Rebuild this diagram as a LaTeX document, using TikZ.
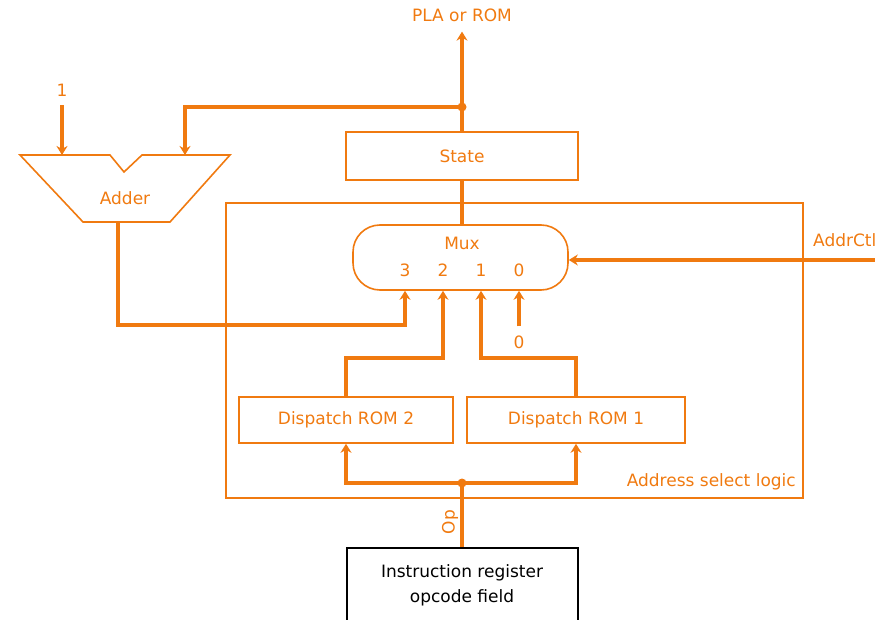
\documentclass[tikz,border=0pt]{standalone}
\usepackage{fontspec}
\setmainfont{DejaVu Sans}
\usetikzlibrary{arrows.meta,positioning}
\definecolor{wirec}{HTML}{F07A10}
\tikzset{
  wire/.style={wirec,line width=3.4pt},
  ar/.style={wire,-{Stealth[length=9pt,width=11pt]}},
  outl/.style={draw=wirec,line width=1.6pt},
  lbl/.style={text=wirec,font=\fontsize{17}{25}\selectfont,inner sep=1pt},
  box/.style={outl,lbl,minimum height=46pt,inner sep=3pt},
  muxbox/.style={outl,rounded corners=27pt,minimum width=215pt,minimum height=65pt},
  irbox/.style={draw=black,line width=2pt,align=center,font=\fontsize{17}{25}\selectfont,minimum width=231pt,minimum height=74pt},
  dot/.style={circle,fill=wirec,inner sep=0pt,minimum size=9pt}
}
\begin{document}
\begin{tikzpicture}[x=1pt,y=-1pt]
\useasboundingbox (0,0) rectangle (875,620);
% address select logic frame
\node[outl,minimum width=577pt,minimum height=295pt] (asl) at (514.5,350.5) {};
\node[lbl,anchor=east] (asltxt) at (797,482) {Address select logic};
% blocks
\node[box,minimum width=232pt,minimum height=48pt] (state) at (462,156) {State};
\node[muxbox] (mux) at (460.5,257.5) {};
\node[lbl] (muxtxt) at (462,243) {Mux};
\foreach \n/\x in {3/405,2/443,1/481,0/519}
  \node[lbl] (m\n) at (\x,270) {\n};
\node[box,minimum width=214pt] (rom2) at (346,420) {Dispatch ROM 2};
\node[box,minimum width=218pt] (rom1) at (576,420) {Dispatch ROM 1};
\node[irbox] (ir) at (462,585) {Instruction register\\opcode field};
% adder
\draw[outl] (20,155) -- (110,155) -- (124,172) -- (142,155) -- (230,155)
  -- (170,222) -- (83,222) -- cycle;
\node[lbl] (addtxt) at (125,198) {Adder};
\coordinate (addin1) at (62,155);
\coordinate (addin2) at (185,155);
\coordinate (addout) at (118,222);
% labels
\node[lbl] (pla) at (462,15) {PLA or ROM};
\node[lbl] (one) at (62,90) {1};
\node[lbl] (zero) at (519,342) {0};
\node[lbl,rotate=90] (op) at (450,522) {Op};
\node[lbl,anchor=west] (addrctl) at (812,240) {AddrCtl};
% wires
\node[dot] (j1) at (462,107) {};
\node[dot] (j2) at (462,483) {};
\coordinate (bend3) at (118,325);
\coordinate (bend2) at (346,358);
\coordinate (bend1) at (576,358);
\coordinate (actl) at (875,260);
\draw[ar,shorten >=9pt] (state.north) -- (pla.south);
\draw[ar] (j1.center) -| (addin2);
\draw[ar,shorten <=8pt] (one.south) -- (addin1);
\draw[wire] (state.south) -- (state.south |- mux.north);
\draw[ar] (addout) -- (bend3) -| (m3 |- mux.south);
\draw[ar] (rom2.north) -- (bend2) -| (m2 |- mux.south);
\draw[ar] (rom1.north) -- (bend1) -| (m1 |- mux.south);
\draw[ar,shorten <=8pt] (zero.north) -- (m0 |- mux.south);
\draw[ar] (actl) -- (mux.east |- actl);
\draw[wire] (ir.north) -- (j2.center);
\draw[ar] (j2.center) -| (rom2.south);
\draw[ar] (j2.center) -| (rom1.south);
\end{tikzpicture}
\end{document}
